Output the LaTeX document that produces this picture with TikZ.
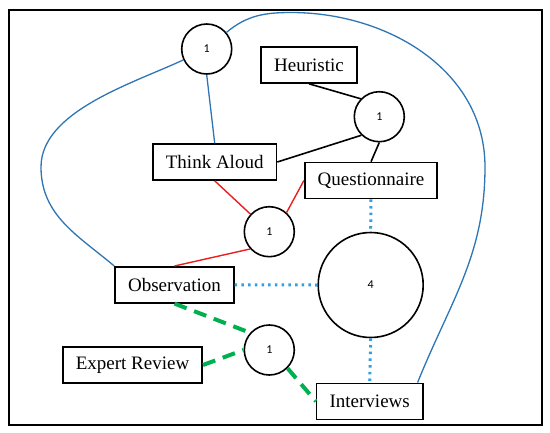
\documentclass[tikz,border=0pt]{standalone}
\usepackage{fontspec}
\setmainfont{Liberation Serif}
\newfontfamily\hubfont{Carlito}
\usepackage{tikz}

\definecolor{curveblue}{RGB}{46,117,182}
\definecolor{linkred}{RGB}{235,30,30}
\definecolor{dotblue}{RGB}{50,160,220}
\definecolor{dashgreen}{RGB}{0,176,80}

\begin{document}
\begin{tikzpicture}[
  x=1pt,y=-1pt,
  method/.style={draw=black,line width=1.6pt,inner xsep=13pt,minimum height=36pt,font=\fontsize{19}{22}\selectfont},
  hub/.style={draw=black,circle,line width=1.6pt,minimum size=50pt,inner sep=0pt,font=\hubfont\fontsize{12}{14}\selectfont},
  bighub/.style={hub,minimum size=105pt},
  blueline/.style={curveblue,line width=1.3pt},
  blackline/.style={black,line width=1.6pt},
  redline/.style={linkred,line width=1.4pt},
  dotline/.style={dotblue,line width=3pt,dash pattern=on 2.5pt off 4.2pt},
  dashline/.style={dashgreen,line width=4pt,dash pattern=on 13pt off 8pt}
]
\useasboundingbox (0,0) rectangle (550,432);
\draw[line width=2pt] (8.7,10) rectangle (541.5,425);

% circles
\node[hub] (hubtop) at (206.7,49) {1};
\node[hub] (hubheu) at (379.3,116.7) {1};
\node[hub] (hubmid) at (269.3,231.7) {1};
\node[bighub] (hubbig) at (370.7,285) {4};
\node[hub] (hubexp) at (269.3,350) {1};

% methods
\node[method] (heu) at (309,65) {Heuristic};
\node[method] (thk) at (214.7,162) {Think Aloud};
\node[method] (que) at (371,180.5) {Questionnaire};
\node[method] (obs) at (174.5,284.8) {Observation};
\node[method] (exr) at (132.5,365) {Expert Review};
\node[method] (itv) at (369.7,401.3) {Interviews};

% blue loop
\coordinate (loopleft) at (41,167);
\coordinate (looppeak) at (291,12.5);
\coordinate (loopright) at (485,167);
\draw[blueline] (obs.north west) to[out=140,in=-90] (loopleft)
  to[out=90,in=205,looseness=0.8] (hubtop);
\draw[blueline] (hubtop) to[out=40,in=180] (looppeak)
  to[out=0,in=90] (loopright) to[out=-90,in=68] ([xshift=-6pt]itv.north east);
\draw[blueline] (hubtop.south) -- (thk.north);

% black
\draw[blackline] (heu.south) -- (hubheu.136);
\draw[blackline] (thk.east) -- (hubheu.226);
\draw[blackline] (hubheu.south) -- (que.north);

% red
\draw[redline] (thk.south) -- (hubmid);
\draw[redline] (hubmid.48) -- (que.west);
\draw[redline] (hubmid.222) -- (obs.north);

% dotted
\draw[dotline] (que.south) -- (hubbig.north);
\draw[dotline] (obs.east) -- (hubbig.west);
\draw[dotline] (hubbig.south) -- (itv.north);

% dashed
\draw[dashline] (obs.south) -- (hubexp.138);
\draw[dashline] (exr.east) -- (hubexp.west);
\draw[dashline] (hubexp.-45) -- (itv.west);
\end{tikzpicture}
\end{document}
